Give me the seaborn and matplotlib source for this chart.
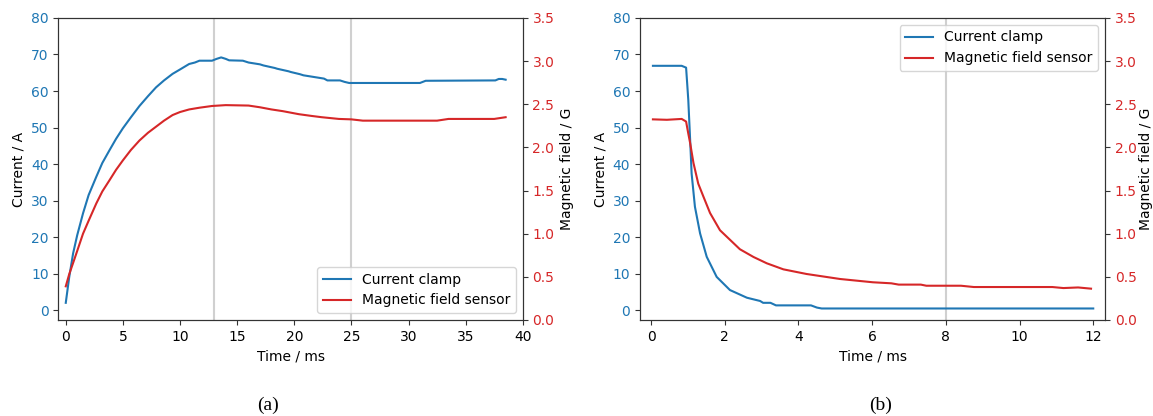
import matplotlib
matplotlib.use("Agg")
import matplotlib.pyplot as plt
import seaborn as sns
import pandas as pd

# ---------------- data: panel (a) ----------------
t_cur_a = [0, 0.3, 0.64, 1.0, 1.51, 2.0, 2.67, 3.2, 3.83, 4.4, 5.0, 5.7, 6.45, 7.2, 7.9,
           8.6, 9.35, 10.0, 10.8, 11.3, 11.7, 12.8, 13.2, 13.6, 14.0, 14.3, 15.5, 16.0,
           17.0, 17.3, 18.3, 18.5, 19.5, 19.7, 20.5, 20.8, 21.6, 22.0, 22.6, 22.9, 24.0,
           24.4, 24.8, 25.0, 31.0, 31.5, 37.6, 37.9, 38.2, 38.5]
cur_a = [2.0, 9.0, 15.5, 20.5, 26.5, 31.5, 36.5, 40.3, 43.8, 46.9, 49.8, 52.8, 55.9, 58.6,
         61.0, 62.9, 64.7, 65.9, 67.4, 67.8, 68.3, 68.3, 68.8, 69.2, 68.8, 68.4, 68.3, 67.8,
         67.3, 67.0, 66.3, 66.1, 65.4, 65.2, 64.6, 64.3, 63.9, 63.7, 63.4, 62.9, 62.9,
         62.5, 62.2, 62.2, 62.2, 62.8, 62.9, 63.3, 63.3, 63.1]

t_mag_a = [0, 0.3, 0.64, 1.0, 1.51, 2.0, 2.67, 3.2, 3.83, 4.4, 5.0, 5.7, 6.45, 7.2, 7.9,
           8.6, 9.35, 10.0, 10.8, 11.7, 12.8, 14.0, 16.0, 17.0, 18.0, 19.0, 20.4, 21.5,
           22.4, 23.9, 25.0, 26.0, 32.5, 33.5, 37.5, 38.5]
mag_a = [0.39, 0.53, 0.66, 0.80, 1.0, 1.15, 1.35, 1.49, 1.62, 1.74, 1.85, 1.97, 2.08, 2.17,
         2.24, 2.31, 2.375, 2.41, 2.44, 2.46, 2.48, 2.49, 2.485, 2.465, 2.44, 2.42, 2.385,
         2.365, 2.35, 2.33, 2.325, 2.31, 2.31, 2.33, 2.33, 2.35]

vlines_a = [13, 25]

# ---------------- data: panel (b) ----------------
t_cur_b = [0.05, 0.83, 0.95, 0.98, 1.01, 1.06, 1.10, 1.19, 1.33, 1.51, 1.78, 2.14, 2.60,
           2.96, 3.04, 3.24, 3.39, 4.34, 4.50, 4.63, 12.0]
cur_b = [66.9, 66.9, 66.4, 62.0, 57.5, 46.6, 37.4, 28.3, 21.0, 14.6, 9.1, 5.5, 3.4, 2.5,
         2.0, 2.0, 1.3, 1.3, 0.7, 0.45, 0.45]

t_mag_b = [0.05, 0.43, 0.83, 0.95, 1.01, 1.06, 1.15, 1.28, 1.42, 1.60, 1.87, 2.14, 2.41,
           2.78, 3.14, 3.59, 4.22, 5.13, 6.02, 6.52, 6.72, 7.32, 7.47, 8.41, 8.76, 10.89,
           11.19, 11.59, 11.94]
mag_b = [2.325, 2.32, 2.33, 2.30, 2.16, 2.05, 1.82, 1.58, 1.43, 1.24, 1.04, 0.93, 0.82,
         0.73, 0.657, 0.587, 0.533, 0.475, 0.437, 0.425, 0.41, 0.41, 0.397, 0.397, 0.382,
         0.382, 0.37, 0.377, 0.363]

vlines_b = [8]

labels = ["Current clamp", "Magnetic field sensor"]
captions = ["(a)", "(b)"]

BLUE = "#1f77b4"
RED = "#d62728"

fig = plt.figure(figsize=(11.53, 4.16), dpi=100)
ax_a = fig.add_axes([0.0506, 0.2308, 0.4028, 0.7260])
ax_b = fig.add_axes([0.5551, 0.2308, 0.4033, 0.7260])

panels = [
    (ax_a, t_cur_a, cur_a, t_mag_a, mag_a, vlines_a, (-0.65, 40), "lower right", [0, 5, 10, 15, 20, 25, 30, 35, 40], 4.0),
    (ax_b, t_cur_b, cur_b, t_mag_b, mag_b, vlines_b, (-0.30, 12.32), "upper right", [0, 2, 4, 6, 8, 10, 12], 1.5),
]

for ax, tc, c, tm, m, vls, xl, loc, xt, lp in panels:
    for v in vls:
        ax.axvline(v, color="#d0d0d0", lw=1.5, zorder=0)
    dfc = pd.DataFrame({"t": tc, "v": c})
    dfm = pd.DataFrame({"t": tm, "v": m})
    sns.lineplot(data=dfc, x="t", y="v", ax=ax, color=BLUE, lw=1.5, label=labels[0], legend=False)
    ax2 = ax.twinx()
    sns.lineplot(data=dfm, x="t", y="v", ax=ax2, color=RED, lw=1.5, label=labels[1], legend=False)
    ax.set_xlim(*xl)
    ax.set_xticks(xt)
    ax.set_ylim(-2.7, 80)
    ax.set_yticks(range(0, 81, 10))
    ax2.set_ylim(0, 3.5)
    ax2.set_yticks([0.0, 0.5, 1.0, 1.5, 2.0, 2.5, 3.0, 3.5])
    ax.set_xlabel("Time / ms")
    ax.set_ylabel("Current / A")
    ax2.set_ylabel("Magnetic field / G", labelpad=lp)
    ax.tick_params(axis="y", labelcolor=BLUE)
    ax2.tick_params(axis="y", labelcolor=RED)
    for a in (ax, ax2):
        for s in a.spines.values():
            s.set_edgecolor("#333333")
        a.tick_params(color="#333333")
    h1, l1 = ax.get_legend_handles_labels()
    h2, l2 = ax2.get_legend_handles_labels()
    ax2.legend(h1 + h2, l1 + l2, loc=loc)

fig.text(0.2324, 0.0264, captions[0], ha="center", va="center", family="Liberation Serif", fontsize=14)
fig.text(0.7636, 0.0264, captions[1], ha="center", va="center", family="Liberation Serif", fontsize=14)

fig.savefig("out.png", dpi=100)
